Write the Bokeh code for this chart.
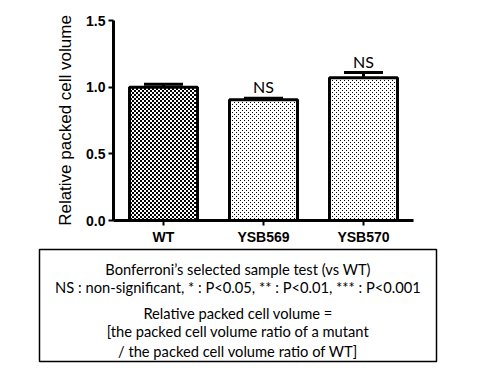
import base64, struct, zlib
from bokeh.plotting import figure
from bokeh.models import (Range1d, FixedTicker, Whisker, TeeHead,
                          ColumnDataSource, ImageURLTexture, CustomJSTickFormatter,
                          Label, BoxAnnotation)
from bokeh.embed import file_html
from bokeh.resources import INLINE
from bokeh.core.properties import value

# ---- data ----
strains = ["WT", "YSB569", "YSB570"]
means = [1.00, 0.905, 1.07]
errors = [0.022, 0.012, 0.04]
sig_labels = ["", "NS", "NS"]
y_ticks = [0.0, 0.5, 1.0, 1.5]
y_tick_labels = ["0.0", "0.5", "1.0", "1.5"]
note_lines = [
    "Bonferroni\u2019s selected sample test (vs WT)",
    "NS : non-significant, * : P<0.05, ** : P<0.01, *** : P<0.001",
    "Relative packed cell volume =",
    "[the packed cell volume ratio of a mutant",
    "/ the packed cell volume ratio of WT]",
]


def png_url(rows):
    h, w = len(rows), len(rows[0])
    raw = b"".join(b"\x00" + bytes(r) for r in rows)

    def chunk(tag, data):
        return (struct.pack(">I", len(data)) + tag + data +
                struct.pack(">I", zlib.crc32(tag + data) & 0xffffffff))
    png = (b"\x89PNG\r\n\x1a\n" +
           chunk(b"IHDR", struct.pack(">IIBBBBB", w, h, 8, 0, 0, 0, 0)) +
           chunk(b"IDAT", zlib.compress(raw)) + chunk(b"IEND", b""))
    return "data:image/png;base64," + base64.b64encode(png).decode()


B, W = 0, 255
checker = ImageURLTexture(url=png_url([[B, B, W, W], [B, B, W, W],
                                       [W, W, B, B], [W, W, B, B]]))
dots = ImageURLTexture(url=png_url([[B, W, W, W], [W, W, W, W],
                                    [W, W, B, W], [W, W, W, W]]))

# category positions on a numeric axis (one unit per category)
xpos = [i + 0.5 for i in range(len(strains))]
n_cat = len(strains)

# frame spans the chart and the note box below it; axes are pinned with fixed_location
p = figure(x_range=Range1d(-0.76, 3.25), y_range=Range1d(-1.0725, 1.62),
           width=470, height=366, output_backend="svg", toolbar_location=None,
           min_border_left=37, min_border_right=32, min_border_top=4, min_border_bottom=3)
p.outline_line_color = None
p.grid.visible = False

wt_src = ColumnDataSource(dict(x=xpos[:1], top=means[:1]))
mut_src = ColumnDataSource(dict(x=xpos[1:], top=means[1:]))
p.vbar(x="x", top="top", bottom=0, width=0.68, source=wt_src, fill_color="white",
       line_color="black", line_width=3, hatch_pattern=value("checker"),
       hatch_extra={"checker": checker}, hatch_scale=4, hatch_color="black")
p.vbar(x="x", top="top", bottom=0, width=0.68, source=mut_src, fill_color="white",
       line_color="black", line_width=3, hatch_pattern=value("dots"),
       hatch_extra={"dots": dots}, hatch_scale=4, hatch_color="black")

uppers = [m + e for m, e in zip(means, errors)]
err_src = ColumnDataSource(dict(base=xpos, lower=means, upper=uppers, label=sig_labels))
w = Whisker(base="base", lower="lower", upper="upper", source=err_src,
            line_color="black", line_width=3,
            upper_head=TeeHead(size=39, line_width=3, line_color="black"),
            lower_head=None)
p.add_layout(w)

p.text(x="base", y="upper", text="label", source=err_src, text_align="center",
       text_baseline="bottom", y_offset=-2, text_font=value("Lato"),
       text_font_size="16px", text_color="black")

# axes
p.yaxis.fixed_location = 0
p.yaxis.bounds = (y_ticks[0], y_ticks[-1])
p.xaxis.fixed_location = 0
p.xaxis.bounds = (0, n_cat)
p.yaxis.ticker = FixedTicker(ticks=y_ticks)
p.yaxis.formatter = CustomJSTickFormatter(args=dict(labels=y_tick_labels, tvals=y_ticks),
                                          code="return labels[tvals.indexOf(tick)];")
p.xaxis.ticker = FixedTicker(ticks=xpos)
p.xaxis.formatter = CustomJSTickFormatter(args=dict(labels=strains, tvals=xpos),
                                          code="return labels[tvals.indexOf(tick)];")
p.yaxis.axis_label = "Relative packed cell volume"
p.yaxis.axis_label_text_font = "Liberation Sans"
p.yaxis.axis_label_text_font_style = "normal"
p.yaxis.axis_label_text_font_size = "17px"
p.yaxis.axis_label_text_color = "black"
p.yaxis.axis_label_standoff = 8
for ax in (p.xaxis, p.yaxis):
    ax.axis_line_width = 3
    ax.axis_line_color = "black"
    ax.major_tick_line_width = 2
    ax.major_tick_line_color = "black"
    ax.major_tick_in = 0
    ax.major_tick_out = 5
    ax.minor_tick_line_color = None
    ax.major_label_text_font = "Liberation Sans"
    ax.major_label_text_font_style = "bold"
    ax.major_label_text_font_size = "14px"
    ax.major_label_text_color = "black"
p.yaxis.major_label_standoff = 3
p.xaxis.major_label_standoff = 3

# note box below the chart
p.add_layout(BoxAnnotation(left=-0.74, right=3.23, top=-0.2175, bottom=-1.0575,
                           fill_color=None, fill_alpha=0, line_color="black",
                           line_width=1.5, line_alpha=1))
for line, yy in zip(note_lines, [-0.362, -0.495, -0.695, -0.83, -0.975]):
    p.add_layout(Label(x=1.245, y=yy, text=line,
                       text_align="center", text_baseline="alphabetic",
                       text_font="Lato", text_font_size="14.7px", text_color="black"))

open("out.html", "w").write(file_html(p, INLINE))
